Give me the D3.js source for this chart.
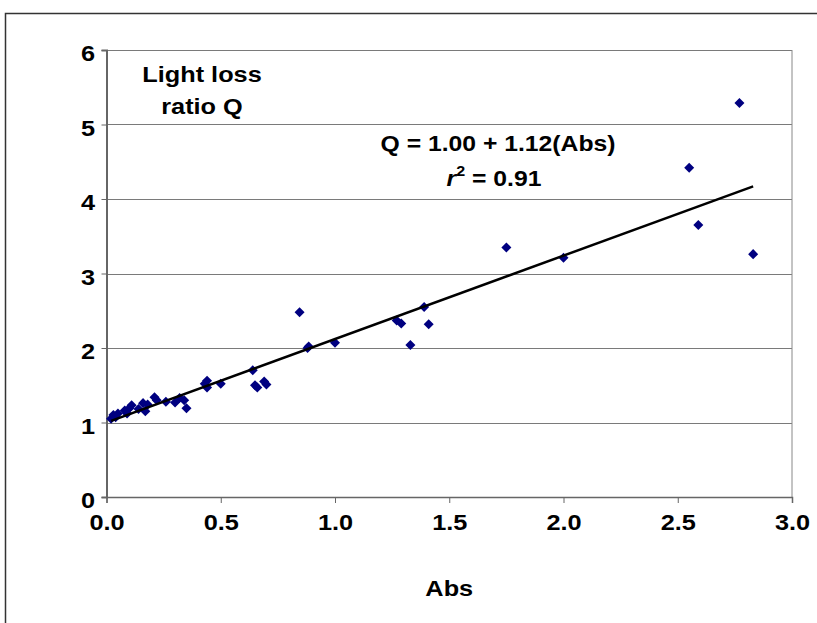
<!DOCTYPE html>
<html>
<head>
<meta charset="utf-8">
<script src="https://cdn.jsdelivr.net/npm/d3@7"></script>
<style>
  body { margin: 0; background: #fff; }
  svg text { font-family: "Liberation Sans", Arial, sans-serif; font-weight: bold; fill: #000; }
</style>
</head>
<body>
<svg id="chart" width="817" height="623"></svg>
<script>
/* ---------- data ---------- */
const absValues = [0.02,0.03,0.04,0.05,0.08,0.09,0.10,0.11,0.14,0.16,0.17,0.18,0.21,0.22,0.26,0.30,0.32,0.34,0.35,
                   0.43,0.44,0.44,0.50,0.64,0.65,0.66,0.69,0.70,0.845,0.88,0.885,1.00,1.27,1.29,1.33,1.39,1.41,
                   1.75,2.00,2.55,2.59,2.77,2.83];
const qValues   = [1.05,1.10,1.07,1.12,1.16,1.12,1.19,1.23,1.18,1.26,1.15,1.24,1.34,1.30,1.28,1.27,1.33,1.30,1.19,
                   1.52,1.47,1.56,1.52,1.70,1.50,1.47,1.55,1.51,2.48,2.00,2.02,2.07,2.37,2.33,2.04,2.55,2.32,
                   3.35,3.21,4.42,3.65,5.29,3.26];
const fitIntercept = 1.00, fitSlope = 1.12;
const fitRange = [0.02, 2.83];
const xTicks = [0, 0.5, 1.0, 1.5, 2.0, 2.5, 3.0];
const yTicks = [0, 1, 2, 3, 4, 5, 6];

/* ---------- geometry ---------- */
const L = 106.5, R = 792, T = 50, B = 497;
const SX = 1.15;              // the picture is a bit wider than tall, text too
const svg = d3.select("#chart");

const x = d3.scaleLinear().domain([0, 3]).range([L, R]);
const y = d3.scaleLinear().domain([0, 6]).range([B, T]);

// outer frame (top + left edge only visible)
svg.append("path")
   .attr("d", "M5.5,623 V13.5 H817")
   .attr("fill", "none").attr("stroke", "#333").attr("stroke-width", 1.5);

// gridlines
svg.append("g").selectAll("line")
   .data(yTicks.slice(1))
   .join("line")
   .attr("x1", L).attr("x2", R)
   .attr("y1", d => Math.round(y(d)) + 0.5).attr("y2", d => Math.round(y(d)) + 0.5)
   .attr("stroke", "#7a7a7a").attr("stroke-width", 1);

// right border of plot area
svg.append("line")
   .attr("x1", R).attr("x2", R).attr("y1", T).attr("y2", B)
   .attr("stroke", "#888");

/* ---------- axes ---------- */
const xAxis = svg.append("g")
   .attr("transform", `translate(0,${B})`)
   .call(d3.axisBottom(x).tickValues(xTicks).tickSize(6).tickPadding(11).tickFormat(d3.format(".1f")));
xAxis.select(".domain").attr("stroke", "#666").attr("stroke-width", 1.5);
xAxis.selectAll(".tick line").attr("stroke", "#666");
xAxis.selectAll("text").attr("font-size", 22).attr("font-family", "Liberation Sans, Arial, sans-serif")
     .attr("font-weight", "bold").attr("transform", `scale(${SX},1)`);

const yAxis = svg.append("g")
   .attr("transform", `translate(${L},0)`)
   .call(d3.axisLeft(y).tickValues(yTicks).tickSize(5).tickPadding(5).tickFormat(d3.format("d")));
yAxis.select(".domain").attr("stroke", "#666").attr("stroke-width", 2);
yAxis.selectAll(".tick line").attr("stroke", "#666");
yAxis.selectAll("text").attr("font-size", 22).attr("font-family", "Liberation Sans, Arial, sans-serif")
     .attr("font-weight", "bold").attr("dy", "0.48em").attr("transform", `scale(${SX},1)`);

function label(cx, cy, size, txt) {
  return svg.append("text")
     .attr("transform", `translate(${cx},${cy}) scale(${SX},1)`)
     .attr("text-anchor", "middle").attr("font-size", size)
     .text(txt);
}

label((L + R) / 2, 596, 22, "Abs");

/* ---------- points ---------- */
const diamond = d3.symbol().type(d3.symbolDiamond2).size(64);
svg.append("g").selectAll("path")
   .data(d3.zip(absValues, qValues))
   .join("path")
   .attr("d", diamond)
   .attr("transform", d => `translate(${x(d[0])},${y(d[1])})`)
   .attr("fill", "#000080");

/* ---------- trend line ---------- */
svg.append("line")
   .attr("x1", x(fitRange[0])).attr("y1", y(fitIntercept + fitSlope * fitRange[0]))
   .attr("x2", x(fitRange[1])).attr("y2", y(fitIntercept + fitSlope * fitRange[1]))
   .attr("stroke", "#000").attr("stroke-width", 2.5);

/* ---------- annotations ---------- */
label(202, 82, 22, "Light loss");
label(202, 114, 22, "ratio Q");
label(498, 151, 21.5, "Q = 1.00 + 1.12(Abs)");
const r2 = label(494, 186, 21.5, null);
r2.append("tspan").attr("font-style", "italic").text("r");
r2.append("tspan").attr("font-size", 14).attr("dy", -10).text("2");
r2.append("tspan").attr("dy", 10).text(" = 0.91");
</script>
</body>
</html>
